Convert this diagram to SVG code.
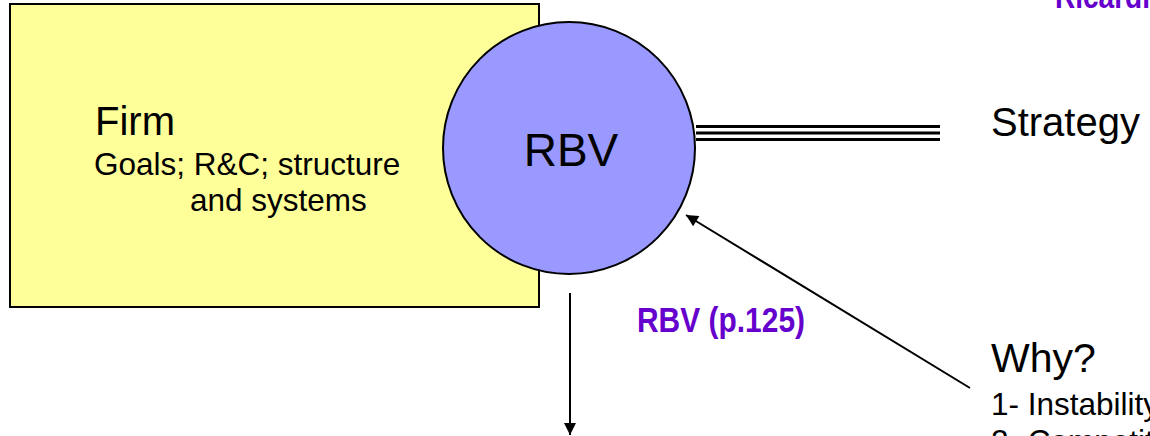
<svg xmlns="http://www.w3.org/2000/svg" width="1150" height="436" viewBox="0 0 1150 436">
  <defs>
    <marker id="arrowBig" viewBox="0 0 10 10" refX="10" refY="5" markerWidth="14" markerHeight="12" markerUnits="userSpaceOnUse" orient="auto">
      <path d="M0,0 L10,5 L0,10 z" fill="#000"/>
    </marker>
    <style>
      .txt { font-family: "Liberation Sans", Arial, sans-serif; fill: #000; }
      .big { font-size: 40px; }
      .body { font-size: 31.5px; }
      .accent { font-family: "Liberation Sans", Arial, sans-serif; font-weight: bold; fill: #6600CC; }
      .conn { stroke: #000; stroke-width: 2; fill: none; }
      .rail { stroke: #000; stroke-width: 3; }
    </style>
  </defs>

  <rect width="1150" height="436" fill="#fff"/>

  <!-- Firm box -->
  <g id="firm">
    <rect x="10" y="4" width="529" height="303" fill="#FFFF99" stroke="#000" stroke-width="2"/>
    <text class="txt big" x="95" y="135">Firm</text>
    <text class="txt body" x="94" y="175">Goals; R&amp;C; structure</text>
    <text class="txt body" x="190" y="211">and systems</text>
  </g>

  <!-- Resource-based view circle -->
  <g id="rbv">
    <circle cx="569" cy="148" r="126" fill="#9999FF" stroke="#000" stroke-width="2"/>
    <text class="txt" x="571" y="166" font-size="46" text-anchor="middle">RBV</text>
  </g>

  <g id="strategy">
    <text class="txt big" x="991" y="136">Strategy</text>
  </g>

  <g id="why">
    <text class="txt" x="991" y="372" font-size="41">Why?</text>
    <text class="txt body" x="991" y="415">1- Instability</text>
    <text class="txt body" x="991" y="452">2- Competiti</text>
  </g>

  <g id="labels">
    <text class="accent" x="637" y="332" font-size="35" textLength="168" lengthAdjust="spacingAndGlyphs">RBV (p.125)</text>
    <text class="accent" x="1055" y="8" font-size="34" textLength="95" lengthAdjust="spacingAndGlyphs">Ricardi</text>
  </g>

  <!-- Connectors -->
  <g id="connectors">
    <line class="rail" x1="696" y1="126.5" x2="940" y2="126.5"/>
    <line class="rail" x1="696" y1="133" x2="940" y2="133"/>
    <line class="rail" x1="696" y1="139.5" x2="940" y2="139.5"/>
    <line class="conn" x1="570" y1="293" x2="570" y2="435" marker-end="url(#arrowBig)"/>
    <line class="conn" x1="970" y1="388" x2="686" y2="215" marker-end="url(#arrowBig)"/>
  </g>
</svg>
